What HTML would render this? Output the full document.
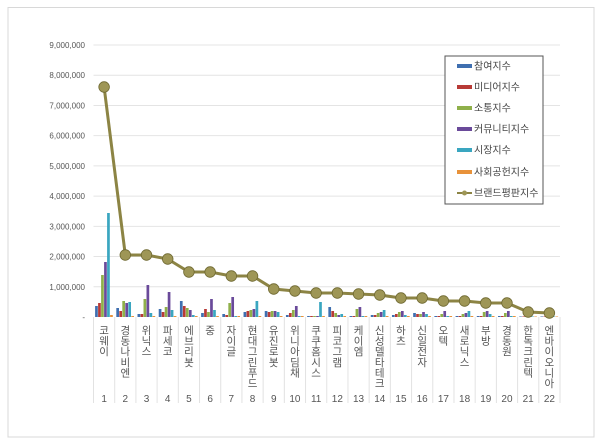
<!DOCTYPE html>
<html><head><meta charset="utf-8"><style>
body{margin:0;background:#fff;}
svg{display:block;font-family:"Liberation Sans","Noto Sans CJK KR",sans-serif;}
</style></head><body>
<svg width="600" height="443" viewBox="0 0 600 443" xmlns="http://www.w3.org/2000/svg">
<rect x="8" y="7.5" width="586" height="429.5" fill="#fff" stroke="#d8d8d8" stroke-width="1"/>
<g id="grid" stroke="#e4e4e4" stroke-width="1"></g>
<g id="ylab" font-size="8" fill="#555" text-anchor="end"></g>
<g id="seps" stroke="#e2e2e2" stroke-width="1"></g>
<g id="bars"></g>
<g id="line"></g>
<g id="cats" font-size="10.5" fill="#555" text-anchor="middle"></g>
<rect x="445" y="56" width="98" height="148" fill="#fff" stroke="#555" stroke-width="1"/>
<g id="leg" font-size="10" fill="#444"></g>
</svg>
<script>
const NS="http://www.w3.org/2000/svg";
function el(p,t,a,txt){const e=document.createElementNS(NS,t);for(const k in a)e.setAttribute(k,a[k]);if(txt!==undefined)e.textContent=txt;document.getElementById(p).appendChild(e);return e;}
const L=93.5,R=560,Y0=317,Y9=45,step=(Y0-Y9)/9;
for(let i=0;i<=9;i++){const y=Y0-i*step;
 if(i>0)el("grid","line",{x1:L,x2:R,y1:y,y2:y});
 el("ylab","text",{x:85,y:y+3},i==0?"-":(i+",000,000"));}
const W=(R-L)/22;
for(let i=0;i<=22;i++){const x=L+i*W;el("seps","line",{x1:x,x2:x,y1:Y0,y2:403});}
const cols=["#3f6fb0","#b83a36","#8fb04a","#6a4a9a","#3aa6c0","#e8923a"];
const H=[[11,14,42,55,104,2],[9,6,16,14,15,1],[3,3,18,32,4,1],[8,5,10,25,7,1],[16,11,9,7,2,1],[4,8,5,18,7,1],[3,2,14,20,1,1],[5,6,7,8,16,1],[6,5,6,6,5,1],[2,4,7,11,1,1],[1,1,1,1,15,1],[10,6,4,2,3,1],[1,1,8,10,1,1],[2,2,4,5,7,1],[2,3,5,6,2,1],[4,3,3,5,3,1],[1,1,3,6,1,1],[1,1,3,4,6,1],[1,1,5,6,3,1],[1,1,4,6,1,1],[0.5,0.5,0.5,0.5,0.5,0.5],[0.5,0.5,0.5,0.5,0.5,0.5]];
const LY=[87,255,255,259,272,272,276,276,289,291,293,293,294,295,298,298,301,301,303,303,312,313];
const names=["코웨이","경동나비엔","위닉스","파세코","에브리봇","중","자이글","현대그린푸드","유진로봇","위니아딤채","쿠쿠홈시스","피코그램","케이엠","신성델타테크","하츠","신일전자","오텍","새로닉스","부방","경동원","한독크린텍","엔바이오니아"];
let pts=[];
for(let i=0;i<22;i++){const c=L+W*(i+0.5);
 H[i].forEach((h,j)=>{el("bars","rect",{x:c-9+j*3,y:Y0-h,width:2.7,height:h,fill:cols[j]});});
 pts.push(c+","+LY[i]);
 [...names[i]].forEach((ch,k)=>el("cats","text",{x:c,y:334+k*10.6},ch));
 el("cats","text",{x:c,y:402,"font-size":"10"},String(i+1));}
el("line","polyline",{points:pts.join(" "),fill:"none",stroke:"#8c8444","stroke-width":"3"});
pts.forEach(p=>{const [x,y]=p.split(",");el("line","circle",{cx:x,cy:y,r:5.3,fill:"#9e9656",stroke:"#6e6830","stroke-width":"0.8"});});
const ln=["참여지수","미디어지수","소통지수","커뮤니티지수","시장지수","사회공헌지수","브랜드평판지수"];
const ly=[66,87,108,129,150,172,193];
ln.forEach((t,i)=>{const y=ly[i];
 if(i<6)el("leg","rect",{x:457,y:y-2,width:15,height:4,fill:cols[i]});
 else{el("leg","line",{x1:457,x2:472,y1:y,y2:y,stroke:"#8c8444","stroke-width":"2"});el("leg","circle",{cx:464.5,cy:y,r:2.5,fill:"#9e9656"});}
 el("leg","text",{x:474,y:y+3.5},t);});
</script>
</body></html>
